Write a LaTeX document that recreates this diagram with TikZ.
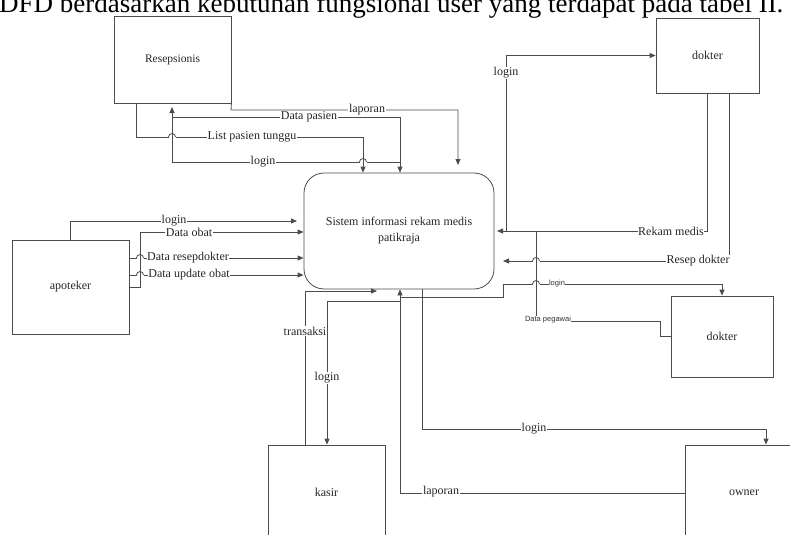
\documentclass[tikz,border=0pt]{standalone}
\usepackage{fontspec}
\setmainfont{Liberation Serif}
\newfontfamily\arialfont{Liberation Sans}
\usetikzlibrary{arrows.meta,positioning}

\newcommand{\fs}[1]{\fontsize{#1}{#1}\selectfont}

\begin{document}
\begin{tikzpicture}[x=1pt,y=-1pt]
\tikzstyle{entity}=[draw=black!70,line width=0.8pt,inner sep=0pt,text=black!85,font=\fs{12}]
\tikzstyle{process}=[entity,rounded corners=20pt,align=center,font=\fontsize{12}{16}\selectfont]
\tikzstyle{wire}=[draw=black!70,line width=0.8pt]
\tikzstyle{flow}=[wire,-{Triangle[length=6pt,width=5pt]}]
\tikzstyle{lbl}=[fill=white,inner sep=0.6pt,text=black!85,font=\fs{12}]
\tikzstyle{smalltext}=[fill=white,inner sep=0.4pt,text=black!80,font=\arialfont\fs{7.5}]

%% Define macros
% #1=name, #2=label, #3=x, #4=y (centre), #5=width, #6=height
\newcommand{\Entity}[6]{
    \node[entity,minimum width=#5pt,minimum height=#6pt] (#1) at (#3,#4) {#2};
}
% hop of a horizontal flow over a vertical one, #1=x, #2=y
\newcommand{\Hop}[2]{
    \fill[white] (#1-3.5,#2-0.9) rectangle (#1+3.5,#2+0.9);
    \draw[wire] (#1,#2-1.5) -- (#1,#2+1.5);
    \draw[wire] (#1-3.5,#2) arc[start angle=180,end angle=360,radius=3.5];
}

\useasboundingbox (0,0) rectangle (790,535);
\begin{scope}
\clip (0,0) rectangle (790,535);

%% ========== TITLE ==========
\node[anchor=base west,inner sep=0pt,font=\fs{27}] (title) at (-1,13)
    {DFD berdasarkan kebutuhan fungsional user yang terdapat pada tabel II.};

%% ========== ENTITIES ==========
\Entity{resep}{\fs{11.5}Resepsionis}{172.5}{60}{117}{87}
\Entity{dokterA}{dokter}{707.5}{55.5}{103}{75}
\Entity{apoteker}{apoteker}{70.5}{287}{117}{94}
\Entity{dokterB}{dokter}{722}{336.5}{102}{81}
\Entity{kasir}{kasir}{326.5}{492.5}{117}{95}
\Entity{owner}{owner}{744}{493}{118}{96}

%% ========== PROCESS ==========
\node[process,minimum width=190pt,minimum height=116pt] (sistem) at (399,231)
    {Sistem informasi rekam medis\\patikraja};

%% ========== CONNECTIONS ==========
% Resepsionis
\draw[flow] (resep.south east) -- (231,110) -- (458,110) -- (458,165);
\draw[flow] (172,117) -- (400,117) -- (400,0 |- sistem.north);
\draw[flow] (400,162) -- (172,162) -- (172,107);
\draw[flow] (136,0 |- resep.south) -- (136,137) -- (363,137) -- (363,0 |- sistem.north);
\Hop{172}{137}
\Hop{363}{162}

% dokter (top)
\draw[flow] (dokterA.south) -- (707.5,231) -- (497,231);
\draw[flow] (506,231) |- (dokterA.west);
\draw[flow] (729,0 |- dokterA.south) -- (729,261) -- (503,261);

% dokter (bottom)
\draw[wire] (dokterB.west) -- (660,336.5) -- (660,321) -- (536,321) -- (536,231);
\draw[flow] (400,297) -- (503,297) -- (503,284) -- (722,284) -- (dokterB.north);
\Hop{536}{261}
\Hop{536}{284}

% apoteker
\draw[flow] (apoteker.north) |- (297,221);
\draw[flow] (apoteker.east) -- (140,287) -- (140,232) -- (sistem.west |- 0,232);
\draw[flow] (apoteker.east |- 0,258) -- (sistem.west |- 0,258);
\draw[flow] (apoteker.east |- 0,275) -- (sistem.west |- 0,275);
\Hop{140}{258}
\Hop{140}{275}

% kasir and owner
\draw[flow] (305,0 |- kasir.north) -- (305,291) -- (377,291);
\draw[flow] (owner.west) -| (400,0 |- sistem.south);
\draw[flow] (400,301) -- (327,301) -- (327,0 |- kasir.north);
\draw[flow] (422,0 |- sistem.south) |- (766,429) -- (766,0 |- owner.north);

%% ========== LABELS ==========
\node[lbl] at (367,110) {laporan};
\node[lbl] at (309,117) {Data pasien};
\node[lbl] at (252,137) {List pasien tunggu};
\node[lbl] at (263,162) {login};
\node[lbl] at (506,73) {login};
\node[lbl] at (671,231) {Rekam medis};
\node[lbl] at (698,261) {Resep dokter};
\node[lbl] at (174,221) {login};
\node[lbl] at (189,232) {Data obat};
\node[lbl] at (188,258) {Data resepdokter};
\node[lbl] at (189,275) {Data update obat};
\node[lbl] at (305,331) {transaksi};
\node[lbl] at (327,378) {login};
\node[lbl] at (441,492) {laporan};
\node[lbl] at (534,429) {login};
\node[smalltext] at (557,284) {login};
\node[smalltext] at (548,320) {Data pegawai};

\end{scope}
\end{tikzpicture}
\end{document}
